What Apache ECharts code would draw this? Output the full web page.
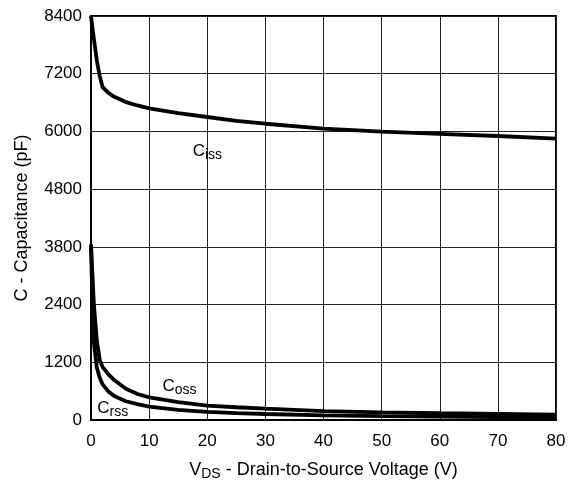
<!DOCTYPE html>
<html>
<head>
<meta charset="utf-8">
<script src="https://cdn.jsdelivr.net/npm/echarts@6/dist/echarts.min.js"></script>
<style>html,body{margin:0;padding:0;background:#fff;}#c{width:577px;height:487px;}</style>
</head>
<body>
<div id="c"></div>
<script>
var voltage = [0, 0.25, 0.5, 1, 1.5, 2, 3, 4, 6, 8, 10, 15, 20, 25, 30, 40, 50, 60, 70, 80];
var ciss = [8400, 8150, 7920, 7480, 7150, 6920, 6800, 6720, 6610, 6540, 6480, 6380, 6300, 6220, 6160, 6060, 5995, 5950, 5905, 5850];
var coss = [3650, 3000, 2400, 1650, 1250, 1100, 950, 830, 650, 540, 470, 370, 300, 265, 235, 185, 160, 140, 125, 110];
var crss = [3600, 2400, 1600, 1090, 880, 740, 590, 500, 390, 330, 280, 210, 170, 145, 125, 95, 80, 70, 60, 50];
var yTickLabels = {0:'0', 1200:'1200', 2400:'2400', 3600:'3800', 4800:'4800', 6000:'6000', 7200:'7200', 8400:'8400'};
var labelCiss = {text: ['C', 'iss'], at: [17.4, 5580]};
var labelCoss = {text: ['C', 'oss'], at: [12.2, 700]};
var labelCrss = {text: ['C', 'rss'], at: [1.0, 235]};

function pairs(ys) { return voltage.map(function (v, i) { return [v, ys[i]]; }); }
var font = 'Liberation Sans, Arial, Helvetica, sans-serif';
var rich = {
  c: {fontSize: 17, fontFamily: font, color: '#000'},
  s: {fontSize: 14, fontFamily: font, color: '#000', padding: [7, 0, 0, 0]}
};
function mark(lbl) {
  return {
    silent: true,
    symbol: 'rect', symbolSize: 1,
    itemStyle: {color: 'rgba(0,0,0,0)'},
    label: {show: true, position: 'right', distance: 0,
      formatter: '{c|' + lbl.text[0] + '}{s|' + lbl.text[1] + '}', rich: rich},
    data: [{coord: lbl.at}]
  };
}
function line(name, ys, lbl) {
  return {
    type: 'line', name: name, data: pairs(ys), symbol: 'none', smooth: false,
    lineStyle: {color: '#000', width: 3.8}, animation: false,
    markPoint: mark(lbl)
  };
}
var chart = echarts.init(document.getElementById('c'), null, {renderer: 'canvas'});
chart.setOption({
  animation: false,
  backgroundColor: '#fff',
  grid: {left: 91, right: 21, top: 16, bottom: 67, show: true, borderColor: '#000', borderWidth: 2, backgroundColor: 'transparent'},
  xAxis: {
    type: 'value', min: 0, max: 80, interval: 10,
    axisLine: {show: true, lineStyle: {color: '#000', width: 2}},
    axisTick: {show: false},
    splitLine: {show: true, lineStyle: {color: '#222', width: 1}},
    axisLabel: {color: '#000', fontSize: 17, fontFamily: font, margin: 13},
    name: '{v|V}{s|DS}{n| - Drain-to-Source Voltage (V)}',
    nameLocation: 'middle', nameGap: 39,
    nameTextStyle: {rich: {
      v: {fontSize: 18, fontFamily: font, color: '#000'},
      s: {fontSize: 14, fontFamily: font, color: '#000', padding: [8, 0, 0, 0]},
      n: {fontSize: 18, fontFamily: font, color: '#000'}
    }}
  },
  yAxis: {
    type: 'value', min: 0, max: 8400, interval: 1200,
    axisLine: {show: true, lineStyle: {color: '#000', width: 2}},
    axisTick: {show: false},
    splitLine: {show: true, lineStyle: {color: '#222', width: 1}},
    axisLabel: {color: '#000', fontSize: 17, fontFamily: font, margin: 9,
      formatter: function (v) { return yTickLabels[v] !== undefined ? yTickLabels[v] : ''; }},
    name: 'C - Capacitance (pF)', nameLocation: 'middle', nameGap: 60,
    nameTextStyle: {color: '#000', fontSize: 18, fontFamily: font}
  },
  series: [
    line('Ciss', ciss, labelCiss),
    line('Coss', coss, labelCoss),
    line('Crss', crss, labelCrss)
  ]
});
</script>
</body>
</html>
